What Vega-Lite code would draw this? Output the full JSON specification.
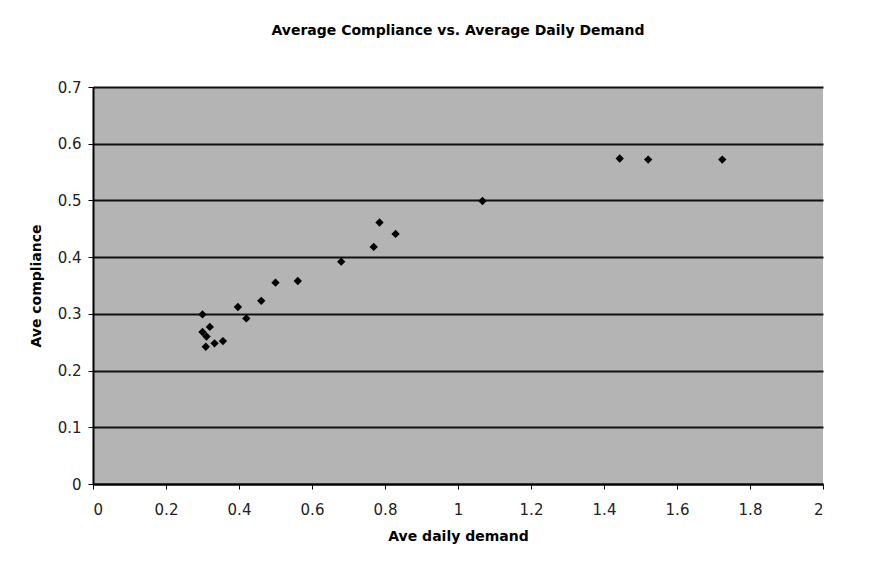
{
  "$schema": "https://vega.github.io/schema/vega-lite/v6.json",
  "width": 730,
  "height": 397,
  "autosize": {"type": "none"},
  "padding": {"left": 93, "top": 87, "right": 69, "bottom": 87},
  "background": "white",
  "title": {
    "text": "Average Compliance vs. Average Daily Demand",
    "font": "DejaVu Sans",
    "fontSize": 14,
    "fontWeight": "bold",
    "color": "black",
    "anchor": "middle",
    "offset": 42
  },
  "config": {
    "view": {"fill": "#b4b4b4", "stroke": null},
    "axis": {
      "labelFont": "DejaVu Sans",
      "titleFont": "DejaVu Sans",
      "labelFontSize": 15,
      "titleFontSize": 14,
      "titleFontWeight": "bold",
      "labelColor": "#222222",
      "titleColor": "black",
      "domainColor": "black",
      "tickColor": "black",
      "tickSize": 5,
      "format": "~g"
    }
  },
  "data": {
    "values": [
      {"demand": 0.300, "compliance": 0.299},
      {"demand": 0.320, "compliance": 0.277},
      {"demand": 0.300, "compliance": 0.268},
      {"demand": 0.311, "compliance": 0.260},
      {"demand": 0.309, "compliance": 0.242},
      {"demand": 0.333, "compliance": 0.248},
      {"demand": 0.356, "compliance": 0.252},
      {"demand": 0.397, "compliance": 0.312},
      {"demand": 0.420, "compliance": 0.292},
      {"demand": 0.461, "compliance": 0.323},
      {"demand": 0.500, "compliance": 0.355},
      {"demand": 0.561, "compliance": 0.358},
      {"demand": 0.680, "compliance": 0.392},
      {"demand": 0.769, "compliance": 0.418},
      {"demand": 0.785, "compliance": 0.461},
      {"demand": 0.829, "compliance": 0.441},
      {"demand": 1.067, "compliance": 0.499},
      {"demand": 1.443, "compliance": 0.574},
      {"demand": 1.521, "compliance": 0.572},
      {"demand": 1.724, "compliance": 0.572}
    ]
  },
  "mark": {"type": "point", "shape": "diamond", "filled": true, "color": "black", "size": 70, "opacity": 1},
  "encoding": {
    "x": {
      "field": "demand",
      "type": "quantitative",
      "title": "Ave daily demand",
      "scale": {"domain": [0, 2], "nice": false, "zero": true},
      "axis": {"values": [0, 0.2, 0.4, 0.6, 0.8, 1, 1.2, 1.4, 1.6, 1.8, 2], "grid": false, "labelPadding": 13, "titlePadding": 12, "domainWidth": 2}
    },
    "y": {
      "field": "compliance",
      "type": "quantitative",
      "title": "Ave compliance",
      "scale": {"domain": [0, 0.7], "nice": false},
      "axis": {"values": [0, 0.1, 0.2, 0.3, 0.4, 0.5, 0.6, 0.7], "grid": true, "gridColor": "#111111", "gridWidth": 2, "gridOpacity": 1, "labelPadding": 7, "titlePadding": 14, "domainWidth": 2}
    }
  }
}
